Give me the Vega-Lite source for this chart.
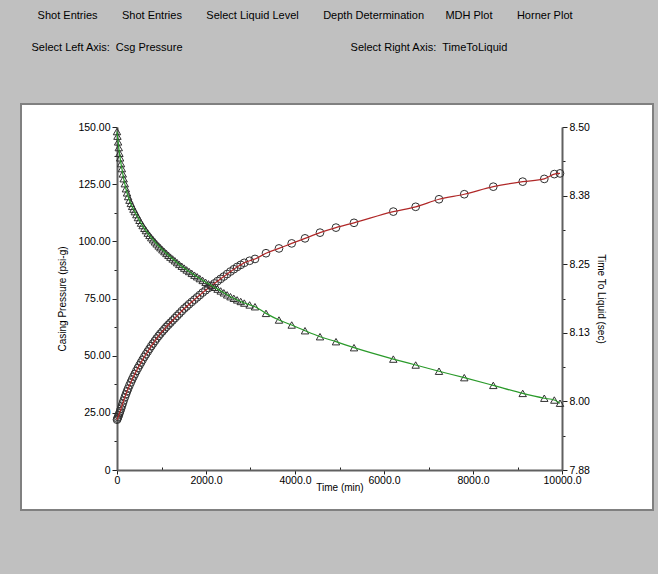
{
  "$schema": "https://vega.github.io/schema/vega-lite/v6.json",
  "width": 632,
  "height": 406,
  "autosize": "none",
  "padding": {"left": 21, "top": 104, "right": 5, "bottom": 64},
  "background": "#c0c0c0",
  "title": {
    "text": ["\u200b\u00a0\u00a0Shot Entries\u00a0\u00a0\u00a0\u00a0\u00a0\u00a0\u00a0\u00a0Shot Entries\u00a0\u00a0\u00a0\u00a0\u00a0\u00a0\u00a0\u00a0Select Liquid Level\u00a0\u00a0\u00a0\u00a0\u00a0\u00a0\u00a0\u00a0Depth Determination\u00a0\u00a0\u00a0\u00a0\u00a0\u00a0\u00a0MDH Plot\u00a0\u00a0\u00a0\u00a0\u00a0\u00a0\u00a0\u00a0Horner Plot", "Select Left Axis:\u00a0\u00a0Csg Pressure\u00a0\u00a0\u00a0\u00a0\u00a0\u00a0\u00a0\u00a0\u00a0\u00a0\u00a0\u00a0\u00a0\u00a0\u00a0\u00a0\u00a0\u00a0\u00a0\u00a0\u00a0\u00a0\u00a0\u00a0\u00a0\u00a0\u00a0\u00a0\u00a0\u00a0\u00a0\u00a0\u00a0\u00a0\u00a0\u00a0\u00a0\u00a0\u00a0\u00a0\u00a0\u00a0\u00a0\u00a0\u00a0\u00a0\u00a0\u00a0\u00a0\u00a0\u00a0\u00a0\u00a0\u00a0\u00a0Select Right Axis:\u00a0\u00a0TimeToLiquid"],
    "anchor": "start",
    "frame": "group",
    "orient": "top",
    "offset": 40,
    "dx": 10.5,
    "baseline": "bottom",
    "lineHeight": 32,
    "font": "Liberation Sans",
    "fontSize": 11,
    "fontWeight": "normal",
    "color": "#000000"
  },
  "config": {
    "view": {"fill": "white", "stroke": "#808080", "strokeWidth": 2},
    "font": "Liberation Sans",
    "axis": {
      "grid": false,
      "domainColor": "#606060",
      "domainWidth": 2,
      "tickColor": "#202020",
      "labelColor": "#000000",
      "labelFont": "Liberation Sans",
      "labelFontSize": 10.5,
      "titleFont": "Liberation Sans",
      "titleFontSize": 10,
      "titleFontWeight": "normal",
      "titleColor": "#000000",
      "labelPadding": 2
    }
  },
  "data": {
    "values": [
      {"t": 0, "p": 22.0, "ttl": 8.4917},
      {"t": 10, "p": 22.5, "ttl": 8.4833},
      {"t": 25, "p": 23.2, "ttl": 8.4729},
      {"t": 40, "p": 24.0, "ttl": 8.4625},
      {"t": 55, "p": 24.8, "ttl": 8.4521},
      {"t": 70, "p": 25.7, "ttl": 8.4438},
      {"t": 90, "p": 26.8, "ttl": 8.4333},
      {"t": 110, "p": 28.0, "ttl": 8.4242},
      {"t": 130, "p": 29.2, "ttl": 8.4146},
      {"t": 150, "p": 30.4, "ttl": 8.4058},
      {"t": 175, "p": 31.8, "ttl": 8.3967},
      {"t": 200, "p": 33.1, "ttl": 8.3875},
      {"t": 225, "p": 34.4, "ttl": 8.3800},
      {"t": 250, "p": 35.6, "ttl": 8.3733},
      {"t": 280, "p": 37.0, "ttl": 8.3667},
      {"t": 310, "p": 38.3, "ttl": 8.3608},
      {"t": 340, "p": 39.6, "ttl": 8.3554},
      {"t": 370, "p": 40.8, "ttl": 8.3504},
      {"t": 400, "p": 42.0, "ttl": 8.3458},
      {"t": 435, "p": 43.3, "ttl": 8.3404},
      {"t": 470, "p": 44.6, "ttl": 8.3350},
      {"t": 505, "p": 45.8, "ttl": 8.3300},
      {"t": 540, "p": 47.0, "ttl": 8.3250},
      {"t": 575, "p": 48.2, "ttl": 8.3204},
      {"t": 615, "p": 49.5, "ttl": 8.3154},
      {"t": 650, "p": 50.6, "ttl": 8.3113},
      {"t": 690, "p": 51.8, "ttl": 8.3067},
      {"t": 730, "p": 53.0, "ttl": 8.3025},
      {"t": 770, "p": 54.2, "ttl": 8.2983},
      {"t": 810, "p": 55.3, "ttl": 8.2946},
      {"t": 850, "p": 56.4, "ttl": 8.2908},
      {"t": 890, "p": 57.5, "ttl": 8.2871},
      {"t": 935, "p": 58.6, "ttl": 8.2833},
      {"t": 975, "p": 59.6, "ttl": 8.2800},
      {"t": 1020, "p": 60.6, "ttl": 8.2763},
      {"t": 1065, "p": 61.6, "ttl": 8.2729},
      {"t": 1110, "p": 62.6, "ttl": 8.2696},
      {"t": 1155, "p": 63.5, "ttl": 8.2663},
      {"t": 1200, "p": 64.4, "ttl": 8.2629},
      {"t": 1250, "p": 65.4, "ttl": 8.2596},
      {"t": 1300, "p": 66.4, "ttl": 8.2563},
      {"t": 1350, "p": 67.4, "ttl": 8.2529},
      {"t": 1400, "p": 68.4, "ttl": 8.2496},
      {"t": 1455, "p": 69.5, "ttl": 8.2463},
      {"t": 1510, "p": 70.6, "ttl": 8.2429},
      {"t": 1565, "p": 71.5, "ttl": 8.2396},
      {"t": 1620, "p": 72.5, "ttl": 8.2367},
      {"t": 1680, "p": 73.5, "ttl": 8.2333},
      {"t": 1740, "p": 74.5, "ttl": 8.2300},
      {"t": 1800, "p": 75.5, "ttl": 8.2271},
      {"t": 1860, "p": 76.5, "ttl": 8.2238},
      {"t": 1925, "p": 77.6, "ttl": 8.2204},
      {"t": 1990, "p": 78.6, "ttl": 8.2171},
      {"t": 2055, "p": 79.6, "ttl": 8.2142},
      {"t": 2120, "p": 80.6, "ttl": 8.2113},
      {"t": 2190, "p": 81.6, "ttl": 8.2079},
      {"t": 2260, "p": 82.6, "ttl": 8.2046},
      {"t": 2330, "p": 83.6, "ttl": 8.2013},
      {"t": 2400, "p": 84.6, "ttl": 8.1979},
      {"t": 2475, "p": 85.7, "ttl": 8.1942},
      {"t": 2550, "p": 86.8, "ttl": 8.1908},
      {"t": 2625, "p": 87.8, "ttl": 8.1879},
      {"t": 2700, "p": 88.8, "ttl": 8.1850},
      {"t": 2780, "p": 89.7, "ttl": 8.1821},
      {"t": 2860, "p": 90.6, "ttl": 8.1792},
      {"t": 2980, "p": 91.5, "ttl": 8.1758},
      {"t": 3101, "p": 92.3, "ttl": 8.1725},
      {"t": 3348, "p": 94.8, "ttl": 8.1604},
      {"t": 3640, "p": 96.9, "ttl": 8.1483},
      {"t": 3926, "p": 99.1, "ttl": 8.1392},
      {"t": 4225, "p": 101.3, "ttl": 8.1288},
      {"t": 4562, "p": 103.8, "ttl": 8.1179},
      {"t": 4921, "p": 106.0, "ttl": 8.1088},
      {"t": 5326, "p": 108.1, "ttl": 8.0979},
      {"t": 6209, "p": 113.0, "ttl": 8.0771},
      {"t": 6712, "p": 115.1, "ttl": 8.0663},
      {"t": 7236, "p": 118.4, "ttl": 8.0550},
      {"t": 7804, "p": 120.6, "ttl": 8.0433},
      {"t": 8456, "p": 123.9, "ttl": 8.0292},
      {"t": 9117, "p": 126.1, "ttl": 8.0146},
      {"t": 9602, "p": 127.3, "ttl": 8.0058},
      {"t": 9827, "p": 129.4, "ttl": 8.0025},
      {"t": 9955, "p": 129.7, "ttl": 7.9967}
    ]
  },
  "encoding": {
    "x": {
      "field": "t",
      "type": "quantitative",
      "scale": {"domain": [0, 10000], "range": [96, 541], "nice": false, "zero": false},
      "axis": {
        "title": "Time (min)",
        "orient": "bottom",
        "offset": -40,
        "values": [0, 1000, 2000, 3000, 4000, 5000, 6000, 7000, 8000, 9000, 10000],
        "labelExpr": "datum.value % 2000 === 0 ? (datum.value === 0 ? '0' : format(datum.value, '.1f')) : ''",
        "tickSize": {"condition": {"test": "datum.value % 2000 !== 0", "value": -3}, "value": 4},
        "labelPadding": 1,
        "titlePadding": -3,
        "labelFlush": false,
        "labelOverlap": false
      }
    }
  },
  "layer": [
    {
      "encoding": {
        "y": {
          "field": "p",
          "type": "quantitative",
          "scale": {"domain": [0, 150], "range": [366, 23], "nice": false, "zero": false},
          "axis": {
            "title": "Casing Pressure (psi-g)",
            "orient": "left",
            "offset": -96,
            "values": [0, 12.5, 25, 37.5, 50, 62.5, 75, 87.5, 100, 112.5, 125, 137.5, 150],
            "labelExpr": "datum.value % 25 === 0 ? (datum.value === 0 ? '0' : format(datum.value, '.2f')) : ''",
            "tickSize": {"condition": {"test": "datum.value % 25 !== 0", "value": 3}, "value": 5},
            "titlePadding": 10,
            "labelFlush": false,
            "labelOverlap": false
          }
        }
      },
      "layer": [
        {"mark": {"type": "point", "shape": "circle", "filled": false, "stroke": "#303030", "strokeWidth": 1, "size": 60, "opacity": 1}},
        {"mark": {"type": "line", "color": "#b02828", "strokeWidth": 1.2, "interpolate": "monotone"}}
      ]
    },
    {
      "encoding": {
        "y": {
          "field": "ttl",
          "type": "quantitative",
          "scale": {"domain": [7.875, 8.5], "range": [366, 23], "nice": false, "zero": false},
          "axis": {
            "title": "Time To Liquid (sec)",
            "orient": "right",
            "offset": -91,
            "values": [7.875, 7.9375, 8, 8.0625, 8.125, 8.1875, 8.25, 8.3125, 8.375, 8.4375, 8.5],
            "labelExpr": "indexof([7.875, 8, 8.125, 8.25, 8.375, 8.5], datum.value) >= 0 ? format(datum.value, '.2f') : ''",
            "tickSize": {"condition": {"test": "indexof([7.875, 8, 8.125, 8.25, 8.375, 8.5], datum.value) < 0", "value": 3}, "value": 5},
            "titlePadding": 6,
            "labelFlush": false,
            "labelOverlap": false
          }
        }
      },
      "layer": [
        {"mark": {"type": "point", "shape": "triangle-up", "filled": false, "stroke": "#303030", "strokeWidth": 1, "size": 55, "opacity": 1}},
        {"mark": {"type": "line", "color": "#2a9a2a", "strokeWidth": 1.2, "interpolate": "monotone"}}
      ]
    }
  ],
  "resolve": {"scale": {"y": "independent"}, "axis": {"y": "independent"}}
}
